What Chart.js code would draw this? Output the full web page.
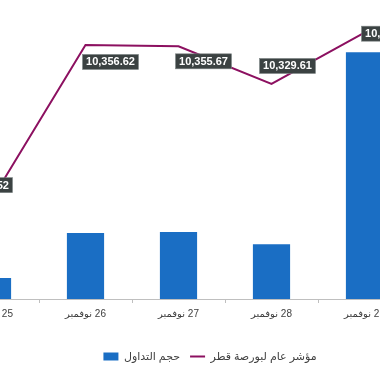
<!DOCTYPE html>
<html>
<head>
<meta charset="utf-8">
<script src="https://cdn.jsdelivr.net/npm/chart.js@4.4.1/dist/chart.umd.min.js"></script>
<style>
    html, body { margin: 0; padding: 0; background: #fff; overflow: hidden; width: 380px; height: 372px; }
    #wrap { position: absolute; left: -54px; top: 0; width: 528px; height: 372px; }
</style>
</head>
<body>
<div id="wrap"><canvas id="chart"></canvas></div>
<script>
// days of november shown on the x axis
const days = [25, 26, 27, 28, 29];
const monthName = 'نوفمبر';
// trading volume (bars) and QE index close (line)
const volume = [4.3, 13.5, 13.7, 11.2, 50.4];
const indexClose = [10250.52, 10356.62, 10355.67, 10329.61, 10365.12];
const volumeName = 'حجم التداول';
const indexName = 'مؤشر عام لبورصة قطر';

// where each value box sits relative to its point (box centre)
const labelShift = [[-8, -13], [25, 17], [25, 15], [16, -18], [25, 1]];

const FONT = 'Arial, "Liberation Sans", "DejaVu Sans", sans-serif';

document.addEventListener('DOMContentLoaded', () => {
    // RLM so the day number ends up on the right like the original
    const labels = days.map(d => '\u200F' + d + ' ' + monthName);

    const fmt = v => v.toLocaleString('en-US', { minimumFractionDigits: 2, maximumFractionDigits: 2 });

    const valueLabels = {
        id: 'valueLabels',
        afterDatasetsDraw(chart) {
            const ctx = chart.ctx;
            const meta = chart.getDatasetMeta(1);
            ctx.save();
            ctx.font = 'bold 11px "Liberation Sans", Arial, sans-serif';
            ctx.textAlign = 'center';
            ctx.textBaseline = 'middle';
            meta.data.forEach((pt, i) => {
                const txt = fmt(indexClose[i]);
                const w = ctx.measureText(txt).width + 7;
                const h = 15;
                const cx = pt.x + labelShift[i][0];
                const cy = pt.y + labelShift[i][1];
                ctx.fillStyle = '#3b4242';
                ctx.fillRect(cx - w / 2, cy - h / 2, w, h);
                ctx.strokeStyle = '#7d8585';
                ctx.lineWidth = 0.6;
                ctx.strokeRect(cx - w / 2, cy - h / 2, w, h);
                ctx.fillStyle = '#ffffff';
                ctx.fillText(txt, cx, cy + 0.5);
            });
            ctx.restore();
        }
    };

    const ctx = document.getElementById('chart').getContext('2d');
    new Chart(ctx, {
        data: {
            labels: labels,
            datasets: [{
                type: 'bar',
                label: volumeName,
                data: volume,
                yAxisID: 'y',
                backgroundColor: '#1a6ec4',
                barPercentage: 0.4,
                categoryPercentage: 1
            }, {
                type: 'line',
                label: indexName,
                data: indexClose,
                yAxisID: 'y1',
                borderColor: '#8c1060',
                borderWidth: 2,
                pointRadius: 0,
                tension: 0
            }]
        },
        options: {
            responsive: true,
            maintainAspectRatio: false,
            animation: false,
            layout: { padding: { top: 20, left: 0, right: 0, bottom: 0 } },
            plugins: {
                tooltip: { enabled: false },
                legend: {
                    position: 'bottom',
                    labels: {
                        usePointStyle: true,
                        pointStyleWidth: 15,
                        boxHeight: 8,
                        padding: 10,
                        color: '#404040',
                        font: { size: 11, family: FONT },
                        generateLabels(chart) {
                            const items = Chart.defaults.plugins.legend.labels.generateLabels(chart);
                            items[0].pointStyle = 'rect';
                            items[1].pointStyle = 'line';
                            return items;
                        }
                    }
                }
            },
            scales: {
                x: {
                    offset: true,
                    grid: { offset: true, drawOnChartArea: false, drawTicks: true, tickLength: 4, color: '#bfbfbf' },
                    border: { display: true, color: '#bfbfbf' },
                    ticks: { color: '#404040', font: { size: 10, family: FONT }, padding: 5, maxRotation: 0, autoSkip: false },
                    afterFit(scale) { scale.height = 42; }
                },
                y: { display: false, min: 0, max: 57 },
                y1: {
                    position: 'right',
                    min: 10180.7,
                    max: 10373.9,
                    grid: { display: false },
                    border: { display: false },
                    ticks: { display: false },
                    afterFit(scale) { scale.width = 63; }
                }
            }
        },
        plugins: [valueLabels]
    });
});
</script>
</body>
</html>
